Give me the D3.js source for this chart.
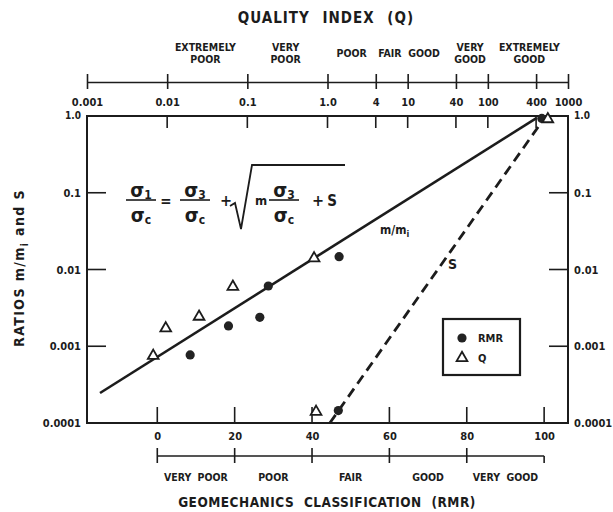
<!DOCTYPE html>
<html><head><meta charset="utf-8">
<script src="https://cdn.jsdelivr.net/npm/d3@7"></script>
<style>
body{margin:0;background:#fff}
text{font-family:"DejaVu Sans Condensed","DejaVu Sans",sans-serif;font-weight:bold;fill:#1c1c1c}
</style>
</head><body><svg id="c" width="613" height="512"></svg>
<script>
// ---- data ----
const qTicks = [0.001, 0.01, 0.1, 1, 4, 10, 40, 100, 400, 1000];
const qTickLabels = ["0.001", "0.01", "0.1", "1.0", "4", "10", "40", "100", "400", "1000"];
const qClasses = [["EXTREMELY", "POOR"], ["VERY", "POOR"], ["POOR"], ["FAIR"], ["GOOD"], ["VERY", "GOOD"], ["EXTREMELY", "GOOD"]];
const qClassAt = [0.03, 0.3, 2, 6, 16, 60, 330];
const rmrTicks = [0, 20, 40, 60, 80, 100];
const rmrClasses = ["VERY POOR", "POOR", "FAIR", "GOOD", "VERY GOOD"];
const rmrClassAt = [10, 30, 50, 70, 90];
const ratioTicks = [1, 0.1, 0.01, 0.001, 0.0001];
const ratioTickLabels = ["1.0", "0.1", "0.01", "0.001", "0.0001"];
// RMR points (filled circles)
const rmrValues = [8.5, 18.4, 26.5, 28.7, 47.0, 46.8, 99.4];
const rmrRatios = [0.00077, 0.00184, 0.00238, 0.0061, 0.0147, 0.000145, 0.93];
// Q points (open triangles)
const qValues = [0.0067, 0.0096, 0.025, 0.066, 0.68, 0.72, 560];
const qRatios = [0.00075, 0.00171, 0.00243, 0.00597, 0.014, 0.00014, 0.91];
// fitted lines (in RMR units)
const mLineRmr = [-14.8, 98];
const mLineRatio = [0.000246, 0.94];
const sLineRmr = [44.6, 99.6];
const sLineRatio = [0.0001, 0.87];

// ---- layout ----
const L = 87, R = 568, T = 116, B = 423;
const ink = "#1c1c1c";
const svg = d3.select("#c");
svg.append("rect").attr("width", 613).attr("height", 512).attr("fill", "#fff");

const xQ = d3.scaleLog().domain([0.001, 1000]).range([L, R]);
// RMR = 9 ln Q + 44
const xR = d3.scaleLinear().domain([9 * Math.log(0.001) + 44, 9 * Math.log(1000) + 44]).range([L, R]);
const y = d3.scaleLog().domain([0.0001, 1]).range([B, T]);

// frame
svg.append("rect").attr("x", L).attr("y", T).attr("width", R - L).attr("height", B - T)
  .attr("fill", "none").attr("stroke", ink).attr("stroke-width", 2);

// ---- top Q axis ----
const qAxisY = 82;
const gq = svg.append("g").attr("transform", `translate(0,${qAxisY})`)
  .call(d3.axisBottom(xQ).tickValues(qTicks).tickFormat((d, i) => qTickLabels[i]).tickSize(7).tickSizeOuter(0).tickPadding(9));
gq.select(".domain").attr("stroke", ink).attr("stroke-width", 1.6);
gq.selectAll(".tick line").attr("y1", -8).attr("stroke", ink).attr("stroke-width", 1.6);
gq.selectAll(".tick text").attr("font-size", 11).style("fill", ink);
gq.attr("font-family", null);

// inner ticks at frame top
svg.append("g").selectAll("line").data(qTicks.slice(1, -1)).join("line")
  .attr("x1", d => xQ(d)).attr("x2", d => xQ(d)).attr("y1", T).attr("y2", T + 12)
  .attr("stroke", ink).attr("stroke-width", 1.6);

// Q class labels
qClasses.forEach((lines, i) => {
  const t = svg.append("text").attr("x", xQ(qClassAt[i])).attr("text-anchor", "middle")
    .attr("font-size", 10.5);
  if (lines.length === 1) {
    t.attr("y", 57).text(lines[0]);
  } else {
    t.append("tspan").attr("x", xQ(qClassAt[i])).attr("y", 51).text(lines[0]);
    t.append("tspan").attr("x", xQ(qClassAt[i])).attr("y", 63).text(lines[1]);
  }
});
svg.append("text").attr("x", 326).attr("y", 23).attr("text-anchor", "middle")
  .attr("font-size", 15).attr("letter-spacing", 1).attr("word-spacing", 7).text("QUALITY INDEX (Q)");

// ---- left / right ratio axes ----
const gl = svg.append("g").attr("transform", `translate(${L},0)`)
  .call(d3.axisLeft(y).tickValues(ratioTicks).tickFormat((d, i) => ratioTickLabels[i]).tickSize(0).tickPadding(6));
gl.select(".domain").remove();
gl.attr("font-family", null);
gl.selectAll(".tick text").attr("font-size", d => d === 1 ? 10 : 11).style("fill", ink)
  .attr("dy", d => d === 1 ? "0.2em" : "0.32em");
const gr = svg.append("g").attr("transform", `translate(${R},0)`)
  .call(d3.axisRight(y).tickValues(ratioTicks).tickFormat((d, i) => ratioTickLabels[i]).tickSize(0).tickPadding(6));
gr.select(".domain").remove();
gr.attr("font-family", null);
gr.selectAll(".tick text").attr("font-size", d => d === 1 ? 10 : 11).style("fill", ink)
  .attr("dy", d => d === 1 ? "0.2em" : "0.32em");

svg.append("g").selectAll("line").data(ratioTicks.slice(1, -1)).join("line")
  .attr("x1", L).attr("x2", L + 19).attr("y1", d => y(d)).attr("y2", d => y(d))
  .attr("stroke", ink).attr("stroke-width", 1.6);
svg.append("g").selectAll("line").data(ratioTicks.slice(1, -1)).join("line")
  .attr("x1", R - 19).attr("x2", R).attr("y1", d => y(d)).attr("y2", d => y(d))
  .attr("stroke", ink).attr("stroke-width", 1.6);

const yt = svg.append("text").attr("transform", "translate(24,268) rotate(-90)")
  .attr("text-anchor", "middle").attr("font-size", 14).attr("letter-spacing", 1.4);
yt.append("tspan").text("RATIOS  m/m");
yt.append("tspan").attr("font-size", 10).attr("dy", 4).text("i");
yt.append("tspan").attr("dy", -4).text("  and  S");

// ---- bottom RMR axis ----
const gb = svg.append("g").attr("transform", `translate(0,${B})`)
  .call(d3.axisBottom(xR).tickValues(rmrTicks).tickSize(0).tickPadding(9));
gb.select(".domain").remove();
gb.attr("font-family", null);
gb.selectAll(".tick text").attr("font-size", 11).style("fill", ink);
svg.append("g").selectAll("line").data(rmrTicks).join("line")
  .attr("x1", d => xR(d)).attr("x2", d => xR(d)).attr("y1", B).attr("y2", B - 16)
  .attr("stroke", ink).attr("stroke-width", 1.6);

const clsY = 456;
svg.append("line").attr("x1", xR(0)).attr("x2", xR(100)).attr("y1", clsY).attr("y2", clsY)
  .attr("stroke", ink).attr("stroke-width", 1.6);
svg.append("g").selectAll("line").data(rmrTicks).join("line")
  .attr("x1", d => xR(d)).attr("x2", d => xR(d))
  .attr("y1", d => d === 100 ? clsY : clsY - 8).attr("y2", clsY + 7)
  .attr("stroke", ink).attr("stroke-width", 1.6);
svg.append("g").selectAll("text").data(rmrClasses).join("text")
  .attr("x", (d, i) => xR(rmrClassAt[i])).attr("y", 481).attr("text-anchor", "middle")
  .attr("font-size", 10.5).attr("word-spacing", 3).text(d => d);
svg.append("text").attr("x", 327).attr("y", 507).attr("text-anchor", "middle")
  .attr("font-size", 13.5).attr("letter-spacing", 0.5).attr("word-spacing", 5)
  .text("GEOMECHANICS CLASSIFICATION (RMR)");

// ---- lines ----
const lineGen = d3.line().x(d => xR(d[0])).y(d => y(d[1]));
svg.append("path").datum(d3.zip(mLineRmr, mLineRatio)).attr("d", lineGen)
  .attr("fill", "none").attr("stroke", ink).attr("stroke-width", 2.6);
svg.append("path").datum(d3.zip(sLineRmr, sLineRatio)).attr("d", lineGen)
  .attr("fill", "none").attr("stroke", ink).attr("stroke-width", 2.8).attr("stroke-dasharray", "10,6");

// ---- points ----
svg.append("g").selectAll("circle").data(d3.zip(rmrValues, rmrRatios)).join("circle")
  .attr("cx", d => xR(d[0])).attr("cy", d => y(d[1])).attr("r", 4.6).attr("fill", "#222");
const tri = d3.symbol().type(d3.symbolTriangle).size(50);
svg.append("g").selectAll("path").data(d3.zip(qValues, qRatios)).join("path")
  .attr("d", tri).attr("transform", d => `translate(${xQ(d[0])},${y(d[1])})`)
  .attr("fill", "#fff").attr("stroke", ink).attr("stroke-width", 1.8);

// line labels
svg.append("text").attr("x", 380).attr("y", 234).attr("font-size", 12).call(t => {
  t.append("tspan").text("m/m");
  t.append("tspan").attr("font-size", 9).attr("dy", 3).text("i");
});
svg.append("text").attr("x", 448).attr("y", 269).attr("font-size", 14).text("S");

// ---- legend ----
svg.append("rect").attr("x", 443).attr("y", 319).attr("width", 77).attr("height", 56)
  .attr("fill", "#fff").attr("stroke", ink).attr("stroke-width", 2.2);
svg.append("circle").attr("cx", 462).attr("cy", 338).attr("r", 4.6).attr("fill", "#222");
svg.append("path").attr("d", tri).attr("transform", "translate(462,358)")
  .attr("fill", "#fff").attr("stroke", ink).attr("stroke-width", 1.8);
svg.append("text").attr("x", 478).attr("y", 342).attr("font-size", 11).text("RMR");
svg.append("text").attr("x", 478).attr("y", 362).attr("font-size", 11).text("Q");

// ---- formula ----
const fz = 20;
function frac(cx, num, den) {
  const g = svg.append("g");
  const n = g.append("text").attr("x", cx).attr("y", 197).attr("text-anchor", "middle").attr("font-size", fz);
  n.append("tspan").text("σ");
  n.append("tspan").attr("font-size", 12).attr("dy", 2).text(num);
  const d = g.append("text").attr("x", cx).attr("y", 222).attr("text-anchor", "middle").attr("font-size", fz);
  d.append("tspan").text("σ");
  d.append("tspan").attr("font-size", 12).attr("dy", 2).text(den);
  g.append("line").attr("x1", cx - 15).attr("x2", cx + 15).attr("y1", 200).attr("y2", 200)
    .attr("stroke", ink).attr("stroke-width", 1.6);
}
frac(141, "1", "c");
svg.append("text").attr("x", 166).attr("y", 206).attr("text-anchor", "middle").attr("font-size", 15).text("=");
frac(195, "3", "c");
svg.append("text").attr("x", 226).attr("y", 206).attr("text-anchor", "middle").attr("font-size", 16).text("+");
svg.append("path").attr("d", "M230,206 L235,203 L241,229 L252,165 L345,165")
  .attr("fill", "none").attr("stroke", ink).attr("stroke-width", 1.8);
svg.append("text").attr("x", 261).attr("y", 205).attr("text-anchor", "middle").attr("font-size", 13).text("m");
frac(284, "3", "c");
svg.append("text").attr("x", 318).attr("y", 206).attr("text-anchor", "middle").attr("font-size", 16).text("+");
svg.append("text").attr("x", 332).attr("y", 206).attr("text-anchor", "middle").attr("font-size", 15).text("S");
</script>
</body></html>
